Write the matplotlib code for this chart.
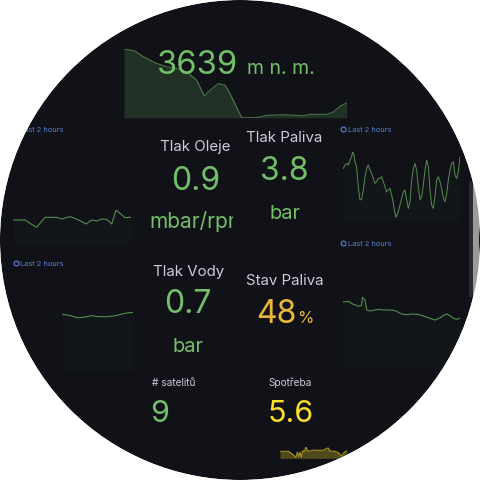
import matplotlib
matplotlib.use('Agg')
import matplotlib.pyplot as plt
from matplotlib.patches import Circle, Rectangle

plt.rcParams['font.family'] = ['Inter', 'DejaVu Sans']

BG = '#111217'
GREEN = '#73BF69'
YELLOW = '#FADE2A'
ORANGE = '#EAB839'
TITLE = '#ccccdc'
BLUE = '#5c84d6'

# nadmorska vyska (relativni), cas v dilcich
alt_t = [42, 75, 100, 140, 170, 200, 230, 260, 283, 300, 325, 345, 360, 395,
         440, 470, 520, 560, 580, 600, 650, 670, 690, 710]
alt_v = [205, 199, 182, 162, 152, 147, 137, 112, 65, 82, 102, 97, 72, 0,
         0, 7, 9, 7, 6, 10, 10, 17, 34, 44]

# tlak oleje
oil_t = [40, 75, 90, 110, 135, 170, 185, 210, 220, 240, 258, 275, 290, 305,
         320, 335, 348, 360, 375, 392]
oil_v = [70, 70, 60, 48, 78, 78, 73, 80, 77, 68, 58, 70, 67, 73, 72, 58,
         100, 90, 77, 78]

# tlak paliva
fuel_t = [40, 45, 50, 55, 60, 65, 68, 72, 75, 80, 85, 90, 95, 100, 105, 110,
          115, 120, 125, 130, 135, 140, 145, 150, 155, 160, 165, 170, 175,
          180, 185, 190, 195, 198, 205, 210, 215, 220, 225, 230, 235, 240,
          245, 250, 255, 260, 265, 270, 275, 280, 285, 290, 295, 300, 305,
          310, 315, 320, 325, 330, 335, 340, 345, 350, 355, 360, 365, 370,
          375, 380, 385, 390]
fuel_v = [155, 165, 170, 165, 180, 190, 205, 195, 175, 160, 100, 60, 62, 90,
          130, 155, 165, 150, 140, 125, 110, 115, 125, 125, 130, 115, 100, 85,
          90, 95, 75, 50, 20, 8, 25, 45, 65, 85, 90, 60, 35, 55, 120, 155,
          170, 150, 100, 60, 70, 105, 150, 180, 160, 90, 45, 35, 70, 120, 130,
          115, 95, 65, 55, 80, 120, 150, 170, 175, 135, 125, 145, 190]

# tlak vody
water_t = [187, 200, 215, 232, 250, 260, 275, 285, 300, 320, 342, 355, 375,
           390, 400]
water_v = [167, 165, 162, 157, 158, 160, 163, 161, 160, 160, 162, 165, 170,
           172, 173]

# stav paliva
level_t = [40, 55, 70, 85, 95, 97, 105, 110, 120, 135, 145, 160, 175, 190,
           200, 215, 230, 245, 265, 280, 300, 315, 330, 340, 350, 360, 370,
           380, 390]
level_v = [194, 196, 187, 182, 183, 208, 200, 170, 167, 170, 172, 170, 170,
           169, 166, 158, 156, 158, 157, 152, 145, 140, 146, 153, 158, 153,
           145, 142, 145]

# spotreba
cons_t = [60, 85, 90, 100, 108, 112, 116, 120, 124, 128, 133, 138, 142, 150,
          160, 175, 190, 200, 205, 210, 225, 235, 245, 250, 255, 262]
cons_v = [21, 21, 18, 10, 3, 19, 5, 19, 3, 23, 20, 35, 23, 22, 25, 24, 24,
          30, 31, 22, 21, 17, 7, 15, 20, 23]

fig = plt.figure(figsize=(4.8, 4.8), dpi=100, facecolor='white')


def px_axes(x0, x1, y0, y1, zorder):
    ax = fig.add_axes([x0 / 480, 1 - y1 / 480, (x1 - x0) / 480, (y1 - y0) / 480])
    ax.set_zorder(zorder)
    ax.patch.set_alpha(0)
    ax.axis('off')
    return ax


ax_bg = px_axes(0, 480, 0, 480, 0)
ax_bg.set_xlim(0, 480)
ax_bg.set_ylim(480, 0)
ax_bg.add_patch(Circle((240, 240), 240, color=BG, lw=0))


def spark(rect, t, v, ylim, color, fill_alpha, line_alpha=0.7, lw=0.8):
    ax = px_axes(*rect, 1)
    ax.plot(t, v, color=color, alpha=line_alpha, lw=lw)
    ax.fill_between(t, v, ylim[0], color=color, alpha=fill_alpha, lw=0)
    ax.set_xlim(min(t), max(t))
    ax.set_ylim(*ylim)
    return ax


spark((124, 346.7, 49, 117.7), alt_t, alt_v, (0, 205), GREEN, 0.18, 0.55)
spark((13.3, 130.7, 210, 243.3), oil_t, oil_v, (0, 100), GREEN, 0.025)
spark((343.3, 460, 151.7, 220), fuel_t, fuel_v, (0, 205), GREEN, 0.025, lw=0.7)
spark((62.3, 133.3, 312.3, 370), water_t, water_v, (0, 173), GREEN, 0.025)
spark((343.3, 460, 297.3, 366.7), level_t, level_v, (0, 208), GREEN, 0.025)
spark((280, 347.3, 446.7, 458.3), cons_t, cons_v, (0, 35), YELLOW, 0.27, 0.6)

ax = px_axes(0, 480, 0, 480, 2)
ax.set_xlim(0, 480)
ax.set_ylim(480, 0)

# nadmorska vyska
ax.text(157, 74, '3639', color=GREEN, fontsize=23.5, ha='left', va='baseline')
ax.text(247, 74, 'm n. m.', color=GREEN, fontsize=14, ha='left', va='baseline')

# "Last 2 hours"
for x, y in [(13, 131), (340, 131), (13, 265), (340, 245)]:
    ax.plot(x + 2.5, y - 1.8, marker='o', ms=3.5, mfc='none', mec=BLUE, mew=0.8)
    ax.text(x + 7.5, y + 1, 'Last 2 hours', color=BLUE, fontsize=5.3,
            ha='left', va='baseline')

# staty
ax.text(195, 151, 'Tlak Oleje', color=TITLE, fontsize=10.8, ha='center', va='baseline')
ax.text(196, 190, '0.9', color=GREEN, fontsize=23, ha='center', va='baseline')
unit = ax.text(149, 228, 'mbar/rpm', color=GREEN, fontsize=15, ha='left', va='baseline')
unit.set_clip_path(Rectangle((0, 0), 233, 480, transform=ax.transData))
unit.set_clip_on(True)

ax.text(284.5, 141.7, 'Tlak Paliva', color=TITLE, fontsize=10.8, ha='center', va='baseline')
ax.text(284, 180, '3.8', color=GREEN, fontsize=23, ha='center', va='baseline')
ax.text(285, 219, 'bar', color=GREEN, fontsize=14.5, ha='center', va='baseline')

ax.text(188.5, 275.7, 'Tlak Vody', color=TITLE, fontsize=10.8, ha='center', va='baseline')
ax.text(188, 313, '0.7', color=GREEN, fontsize=23, ha='center', va='baseline')
ax.text(188, 351.7, 'bar', color=GREEN, fontsize=14.5, ha='center', va='baseline')

ax.text(284.5, 285, 'Stav Paliva', color=TITLE, fontsize=10.8, ha='center', va='baseline')
ax.text(256, 323.3, '48', color=ORANGE, fontsize=23, ha='left', va='baseline')
ax.text(297, 323.3, '%', color=ORANGE, fontsize=12, ha='left', va='baseline')

ax.text(173.5, 385.7, '# satelitů', color=TITLE, fontsize=7.3, ha='center', va='baseline')
ax.text(150, 421.7, '9', color=GREEN, fontsize=22, ha='left', va='baseline')

ax.text(290, 385.7, 'Spotřeba', color=TITLE, fontsize=7.3, ha='center', va='baseline')
ax.text(290.5, 421.7, '5.6', color=YELLOW, fontsize=22, ha='center', va='baseline')

# posuvnik vpravo
ax.add_patch(Rectangle((469, 182), 3.5, 115, color='#2b2c31', lw=0))
ax.add_patch(Rectangle((472.5, 182), 6, 115, color='#9a9a9a', lw=0))

# kruhova maska
ax.add_patch(Circle((240, 240), 290, fill=False, ec='white', lw=72, zorder=10))

fig.savefig('out.png', dpi=100, facecolor='white')
